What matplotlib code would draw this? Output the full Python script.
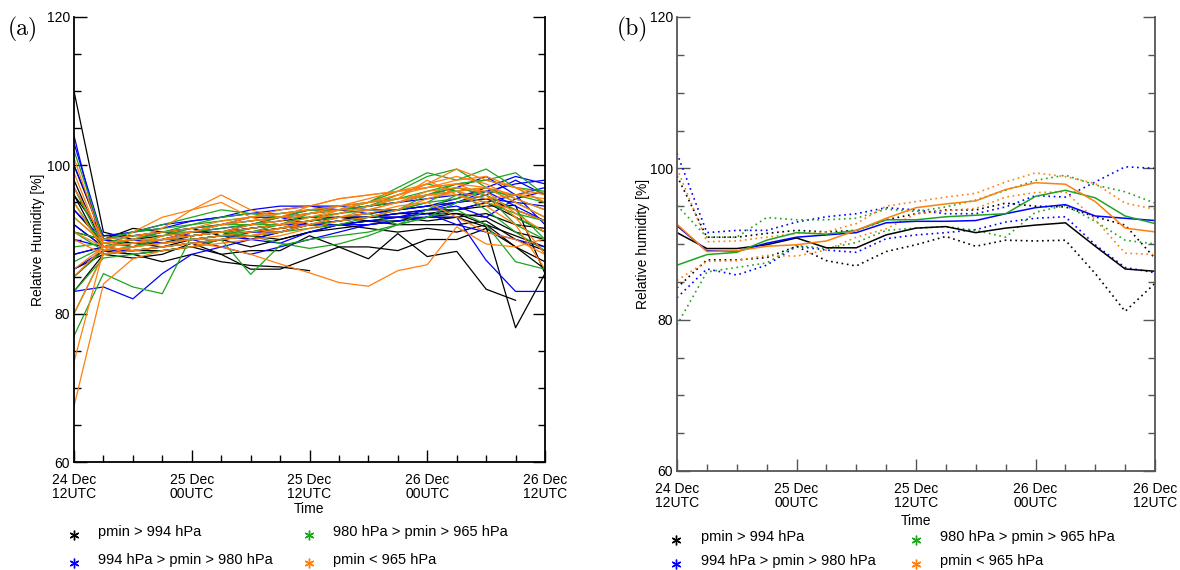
import matplotlib
matplotlib.use('Agg')
import numpy as np
import matplotlib.pyplot as plt
from matplotlib.lines import Line2D

# time axis: hours after 24 Dec 12UTC, every 3 h
hours = [0, 3, 6, 9, 12, 15, 18, 21, 24, 27, 30, 33, 36, 39, 42, 45, 48]
tick_hours = [0, 12, 24, 36, 48]
tick_labels = ['24 Dec\n12UTC', '25 Dec\n00UTC', '25 Dec\n12UTC', '26 Dec\n00UTC', '26 Dec\n12UTC']
group_names = ['pmin > 994 hPa', '994 hPa > pmin > 980 hPa', '980 hPa > pmin > 965 hPa', 'pmin < 965 hPa']
group_colors = ['black', '#0000ff', '#1ea51e', '#ff7f0e']

# (a) individual cyclones, relative humidity [%]
rh_black = [
    [110, 91, 90, 89.5, 90, 90.5, 91, 91.5, 92, 92, 92.5, 92.5, 93, 93, 91.7, 78.1, 85.4],
    [100, 90, 89.5, 90, 90.5, 91, 91.5, 92, 92.5, 93, 93, 93.5, 94, 94, 94.5, 94.6, 85.4],
    [98, 89, 89.5, 89, 90, 90.5, 91, 91.5, 92, 92.5, 93, 93, 93.5, 93.5, 92, 89, 86],
    [96, 88.5, 88, 87, 88, 87, 86.5, 86.3, 85.8],
    [94, 89.5, 90, 90.5, 91, 91, 91.5, 92, 92.5, 93, 92.5, 92, 92, 92, 92.5, 90, 88.5],
    [91, 90, 91.5, 91, 90.5, 91, 90, 91, 92, 92, 91.5, 91, 91.5, 91, 92, 90.5, 89],
    [88, 89, 88.5, 89, 89.5, 88, 86, 86, 87.5, 89, 89, 88.5, 90, 90, 91.5, 89, 87],
    [86, 88, 88.5, 88.5, 89, 88, 88.5, 88.5, 90.5, 89, 87.4, 90.8, 87.7, 88.4, 83.3, 81.8],
    [85, 88.5, 88, 88.5, 89, 90, 89, 90, 91, 91.5, 92, 92.5, 93, 93.5, 93, 91, 90],
    [83, 88, 87.5, 88, 89.5, 90, 90.5, 90, 91, 92, 92.5, 93, 92.5, 93, 93.5, 92, 91.5],
    [96, 90.5, 90.5, 91, 91.5, 90.5, 91, 91.5, 92.5, 93, 93.5, 94, 94.5, 95, 95.5, 94, 92.5],
    [92, 89, 89.5, 89.5, 90.5, 91, 92, 92.5, 93, 93, 93, 93.5, 93.5, 94, 95, 93, 91],
]
rh_blue = [
    [104, 88, 89, 90, 91, 92, 93, 93, 94, 94, 94.5, 95, 95.5, 96, 96.5, 97.5, 98],
    [103, 90, 90.5, 91, 91.5, 92, 92.5, 93, 93.5, 94, 94.5, 95, 96, 97, 98.5, 96, 92],
    [83, 83.6, 82, 85.4, 88, 89, 90, 89.5, 91, 92, 92, 92.5, 93, 93, 87.2, 83, 83],
    [88, 89, 89.5, 90, 90, 89, 88, 89, 90, 91, 92, 92.5, 93, 94, 95, 96, 97],
    [100, 90.5, 91, 92, 92.5, 93, 93.5, 94, 94.5, 94.5, 94, 94, 94.5, 95, 95.5, 95, 94.5],
    [92, 89, 90, 91, 90.5, 91, 91.5, 92, 92, 92.5, 93, 93.5, 94, 94.5, 93, 95.5, 96.5],
    [86, 88.5, 88.5, 89, 89.5, 90, 91, 91, 92, 92, 92.5, 93, 93.5, 92, 91, 90, 89],
    [97, 90, 89, 90, 91, 91.5, 92, 93, 92, 92.5, 93, 93, 94, 95, 96, 98, 96],
    [90, 89, 90, 89.5, 90, 90.5, 90, 91, 92, 93, 93, 93, 93, 95, 96.5, 94.5, 92.5],
    [94, 90, 91, 91.5, 92.5, 93, 94, 94.5, 94.5, 94, 93.5, 94, 94.5, 95.5, 97, 98.5, 97.5],
]
rh_green = [
    [97, 89, 90, 91, 92, 93, 93.5, 93.5, 94, 94, 95, 96.5, 98.5, 99.5, 97, 95, 93],
    [102, 90, 91, 92, 93, 94, 93.5, 93, 93.5, 94, 95, 97, 99, 98, 99.5, 97, 95],
    [77, 85.4, 83.6, 82.7, 90.5, 91, 90.5, 91, 92, 92.5, 93, 94, 96, 97, 96, 92, 90],
    [80, 88, 88.5, 89, 89.5, 90, 85.3, 89.2, 90, 90.5, 91, 92, 93, 94, 92, 87, 86],
    [91, 90, 91, 91.5, 92, 92.5, 93, 93.5, 94, 94.5, 95, 95.5, 96, 96.5, 97, 95.5, 94],
    [85, 88.5, 89, 90.5, 91, 91.5, 92, 92, 92.5, 93, 93.5, 92, 93, 95, 96, 93, 91],
    [89, 89.5, 89, 89.5, 90, 90.5, 90.5, 89.5, 88.8, 89.4, 90.5, 92, 94, 96, 95, 93.5, 92.5],
    [93, 89.5, 90.5, 90.5, 91.5, 92, 92.5, 93, 94, 94, 94.5, 95, 96, 97.5, 98, 99, 96],
    [95, 89, 90, 91, 91, 92, 92, 93, 93, 93.5, 94.5, 96, 97.5, 96.5, 94, 91, 88.5],
    [83, 87.5, 88, 88.5, 89, 90, 90.5, 91, 91.5, 92, 93, 94, 95, 95.5, 96.5, 96, 95],
    [87, 89, 89.5, 90, 90.5, 91, 91, 92, 93, 93.5, 94, 94, 95, 97, 96, 94, 90],
    [91, 88.5, 89, 90, 90, 90.5, 91.5, 92, 93.5, 94, 94.5, 95.5, 96.5, 97.5, 98, 97, 96.5],
]
rh_orange = [
    [67.5, 84, 87.4, 88.5, 89, 89.5, 90, 90.5, 91.5, 92.5, 93, 94, 95.5, 96.5, 97, 95, 93],
    [73.5, 88.5, 89, 89.5, 90, 90.5, 91, 91.5, 92, 93, 94, 95, 96.5, 97, 96.5, 93.5, 91],
    [101, 89.5, 90, 91.5, 94, 95, 93, 92, 92.5, 94, 95, 96, 97.5, 99.5, 98, 97, 96],
    [95, 88.5, 91, 93, 94, 96, 94, 93, 93.5, 94.5, 95.5, 96.5, 97.5, 98.5, 97.5, 95.5, 94],
    [91, 89, 89.5, 90.5, 91, 92, 92.5, 93, 94.5, 95.5, 96, 96.5, 97, 97.5, 97, 96, 95.5],
    [85, 89, 88.5, 89, 89.5, 89, 88, 86.7, 85.5, 84.2, 83.7, 85.8, 86.6, 91.7, 89.4, 89.0, 90.1],
    [99, 89, 89.5, 90, 90.5, 91, 91.5, 92, 93, 94, 95, 96, 97, 98, 98.5, 97, 95],
    [97, 90, 90.5, 91, 91.5, 92.5, 93, 94, 94.5, 95.5, 96, 96.5, 97, 97.5, 96, 93, 88],
    [93, 89.5, 90, 90, 90.5, 91, 92, 92.5, 93.5, 94, 94, 95, 96, 96, 95, 94, 92.5],
    [80, 88, 88.5, 89, 89.5, 90, 90.5, 91, 92, 93, 93.5, 94.5, 95, 93, 91, 90, 88],
    [90, 88, 89, 89.5, 90, 90, 90.5, 91.5, 92.5, 93.5, 94.5, 95.5, 98, 96, 94.5, 92, 86],
    [86, 89, 89.5, 90, 91, 92, 93, 93.5, 94, 94.5, 95, 95.5, 96, 96.5, 95.5, 96, 96.5],
]

# (b) group means with upper / lower spread
mean_black = [91.5, 89.4, 89.4, 89.9, 90.8, 89.5, 89.5, 91.2, 92.1, 92.3, 91.5, 92.1, 92.5, 92.8, 89.7, 86.7, 86.4]
mean_blue = [92.4, 89.1, 89.0, 90.1, 90.9, 91.2, 91.5, 92.8, 93.0, 93.0, 93.1, 94.0, 94.8, 95.2, 93.7, 93.4, 93.1]
mean_green = [87.2, 88.6, 88.9, 90.5, 91.5, 91.3, 91.8, 93.2, 93.2, 93.6, 93.8, 94.0, 96.3, 97.1, 96.1, 93.7, 92.7]
mean_orange = [92.6, 89.0, 89.1, 89.7, 89.9, 90.4, 91.8, 93.4, 94.8, 95.3, 95.7, 97.2, 98.1, 97.9, 95.6, 92.1, 91.6]

upper_black = [99.0, 90.9, 90.9, 91.4, 91.8, 91.6, 91.8, 93.2, 94.0, 94.5, 94.5, 95.4, 95.0, 94.9, 93.6, 92.5, 88.1]
upper_blue = [102.0, 91.5, 91.8, 91.8, 92.9, 93.6, 94.0, 94.8, 94.5, 94.0, 94.0, 94.9, 96.4, 96.2, 98.2, 100.2, 100.0]
upper_green = [95.1, 90.9, 90.9, 93.5, 93.2, 93.2, 93.4, 94.6, 94.3, 94.9, 95.8, 97.1, 98.4, 99.1, 97.8, 96.9, 95.4]
upper_orange = [100.0, 90.3, 90.4, 90.9, 91.4, 91.6, 92.7, 95.0, 95.6, 96.2, 96.7, 98.2, 99.4, 98.9, 98.0, 95.4, 94.6]

lower_black = [84.2, 87.9, 87.9, 88.2, 89.7, 87.8, 87.1, 89.0, 89.9, 91.0, 89.7, 90.5, 90.4, 90.5, 86.1, 81.1, 84.8]
lower_blue = [82.9, 86.7, 85.9, 87.2, 89.7, 89.2, 88.9, 90.7, 91.2, 91.5, 91.9, 92.9, 93.4, 93.6, 89.9, 86.9, 86.2]
lower_green = [79.3, 86.3, 86.9, 87.5, 89.8, 89.4, 90.2, 91.8, 92.1, 92.3, 91.8, 90.9, 94.2, 95.1, 93.0, 90.5, 90.0]
lower_orange = [85.2, 87.7, 87.8, 88.5, 88.4, 89.2, 90.9, 92.0, 94.0, 94.4, 94.7, 96.2, 96.8, 96.9, 93.2, 88.8, 88.6]

plt.rcParams['font.family'] = ['Liberation Sans', 'DejaVu Sans']

W, H = 1180, 570
fig = plt.figure(figsize=(W / 100, H / 100), dpi=100)


def px_axes(left, right, top, bottom):
    return fig.add_axes([left / W, 1 - bottom / H, (right - left) / W, (bottom - top) / H])


def style_axis(ax, axcolor):
    ax.set_xlim(0, 48)
    ax.set_ylim(60, 120)
    ax.set_xticks(tick_hours)
    ax.set_xticklabels(tick_labels, linespacing=0.95)
    ax.set_xticks(hours, minor=True)
    ax.set_yticks([60, 80, 100, 120])
    ax.set_yticks(np.arange(60, 121, 5), minor=True)
    ax.spines['top'].set_visible(False)
    for s in ['left', 'right', 'bottom']:
        ax.spines[s].set_color(axcolor)
        ax.spines[s].set_linewidth(1.3)
    ax.tick_params(which='both', direction='in', right=True, top=False,
                   labelsize=10, color=axcolor, width=1)
    ax.tick_params(which='major', length=9)
    ax.tick_params(which='minor', length=5)
    ax.tick_params(axis='y', pad=3)
    ax.tick_params(axis='x', pad=8)


def legend_block(x_mark, x_mark2, x_text, x_text2, y1, y2):
    rows = [(x_mark, x_text, y1), (x_mark, x_text, y2), (x_mark2, x_text2, y1), (x_mark2, x_text2, y2)]
    for i, (xm, xt, yy) in enumerate(rows):
        fig.add_artist(Line2D([xm / W], [1 - (yy + 3) / H], marker=(6, 2, 0), markersize=7,
                              color=group_colors[i], lw=0, transform=fig.transFigure))
        fig.text(xt / W, 1 - yy / H, group_names[i], fontsize=10.5, va='center', ha='left')


# ---- panel (a)
ax1 = px_axes(74, 545, 17, 462)
for lines, c in zip([rh_black, rh_blue, rh_green, rh_orange], group_colors):
    for vals in lines:
        ax1.plot(hours[:len(vals)], vals, color=c, lw=0.9)
style_axis(ax1, 'black')
ax1.set_xlabel('Time', fontsize=10, labelpad=1)
ax1.set_ylabel('Relative Humidity [%]', fontsize=10, labelpad=1)
fig.text(8 / W, 1 - 29 / H, '(a)', family='cmr10', fontsize=17, va='center', ha='left')
legend_block(74, 309, 98, 333, 532, 560)

# ---- panel (b)
ax2 = px_axes(677, 1155, 17, 471)
means = [mean_black, mean_blue, mean_green, mean_orange]
uppers = [upper_black, upper_blue, upper_green, upper_orange]
lowers = [lower_black, lower_blue, lower_green, lower_orange]
for m, u, l, c in zip(means, uppers, lowers, group_colors):
    ax2.plot(hours, u, color=c, lw=1.2, ls=(0, (1, 2.2)))
    ax2.plot(hours, l, color=c, lw=1.2, ls=(0, (1, 2.2)))
for m, c in zip(means, group_colors):
    ax2.plot(hours, m, color=c, lw=1.1)
style_axis(ax2, '#555555')
ax2.set_xlabel('Time', fontsize=10, labelpad=3)
ax2.set_ylabel('Relative humidity [%]', fontsize=10, labelpad=0)
fig.text(617 / W, 1 - 29 / H, '(b)', family='cmr10', fontsize=17, va='center', ha='left')
legend_block(676, 916, 701, 940, 537, 561)

fig.savefig('out.png', dpi=100)
